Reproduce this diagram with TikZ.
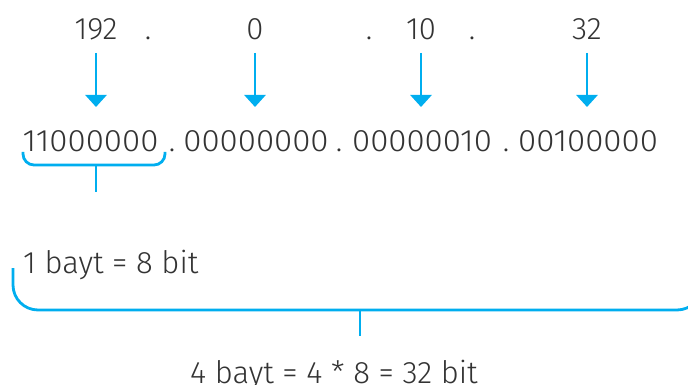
\documentclass[tikz,border=0pt]{standalone}
\usepackage{fontspec}
\setmainfont{Fira Sans Light}
\usetikzlibrary{arrows.meta}
\definecolor{cyanb}{HTML}{00AEEF}
\definecolor{txt}{HTML}{333333}
\newcommand{\wideoct}[1]{\scalebox{1.065}[1]{#1}}
\begin{document}
\begin{tikzpicture}[x=1pt,y=-1pt,
 lbl/.style={inner sep=0pt, anchor=base, text=txt, font=\fontsize{31}{36}\selectfont},
 conn/.style={draw=cyanb, line width=2.8pt},
 arr/.style={conn, -{Triangle[width=21pt,length=12pt]}}]
\useasboundingbox (0,0) rectangle (688,385);
% decimal octets
\node[lbl] (d1) at (96,40) {192};
\node[lbl] (p1) at (148,40) {.};
\node[lbl] (d2) at (255,40) {0};
\node[lbl] (p2) at (369,40) {.};
\node[lbl] (d3) at (421,40) {10};
\node[lbl] (p3) at (472,40) {.};
\node[lbl] (d4) at (587,40) {32};
% binary octets
\node[lbl] (b1) at (90.5,152) {\wideoct{11000000}};
\node[lbl] (q1) at (172,152) {.};
\node[lbl] (b2) at (256,152) {\wideoct{00000000}};
\node[lbl] (q2) at (339,152) {.};
\node[lbl] (b3) at (422,152) {\wideoct{00000010}};
\node[lbl] (q3) at (506,152) {.};
\node[lbl] (b4) at (588,152) {\wideoct{00100000}};
% arrows
\foreach \i/\x in {1/96,2/255,3/421,4/587}{
  \coordinate (s\i) at (\x,53);
  \coordinate (e\i) at (\x,107);
  \draw[arr] (s\i) -- (e\i);
}
% small brace
\coordinate (sb1) at (23,152);
\coordinate (sb2) at (165,152);
\coordinate (sbm) at (96,165);
\coordinate (sbt) at (96,192);
\draw[conn, rounded corners=11pt] (sb1) -- (23,165) -- (165,165) -- (sb2);
\draw[conn] (sbm) -- (sbt);
\node[lbl, anchor=base west] (one) at (23,273) {1 bayt = 8 bit};
% big brace
\coordinate (bb1) at (13,268);
\coordinate (bb2) at (702,280);
\coordinate (bbm) at (360,310);
\coordinate (bbt) at (360,336);
\draw[conn, rounded corners=25pt] (bb1) -- (13,310) -- (702,310) -- (bb2);
\draw[conn] (bbm) -- (bbt);
\node[lbl, anchor=base west] (four) at (190,383) {4 bayt = 4 * 8 = 32 bit};
\end{tikzpicture}
\end{document}
